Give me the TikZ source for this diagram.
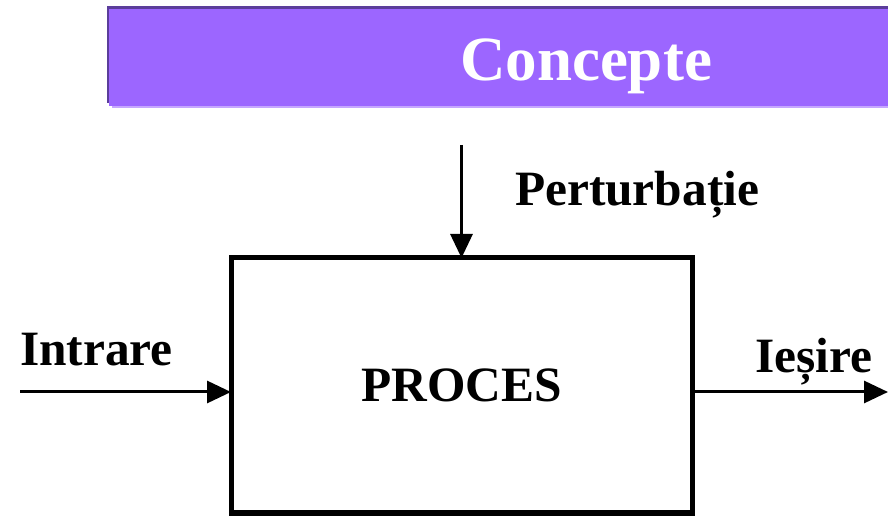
\documentclass[tikz,border=0pt]{standalone}
\usepackage{fontspec}
\setmainfont{Liberation Serif}
\usetikzlibrary{arrows.meta}
\definecolor{bannerfill}{HTML}{9C66FF}
\definecolor{bannerdark}{HTML}{5B3D9B}
\definecolor{bannerlight}{HTML}{C6A6FF}
\newcommand{\lbl}{\fontsize{24.7}{28}\selectfont\bfseries}
\begin{document}
\begin{tikzpicture}[x=0.5pt,y=-0.5pt,
  every node/.style={inner sep=0pt, outer sep=0pt},
  flow/.style={-{Triangle[length=12pt,width=11pt]}, line width=1.5pt},
  procbox/.style={draw, line width=2.5pt, minimum width=230.5pt, minimum height=127.5pt}]
\useasboundingbox (0,0) rectangle (888,517);
% banner
\fill[bannerlight] (112,9) rectangle (888,108);
\fill[bannerdark] (107,6) rectangle (888,103);
\fill[bannerfill] (109,9) rectangle (888,106);
\node[anchor=base] (title) at (586,81) {\fontsize{31.5}{36}\selectfont\bfseries\color{white}Concepte};

\node[procbox] (proces) at (461.5,385.5) {\lbl PROCES};
\coordinate (dist) at (461.5,145);
\coordinate (in) at (20,392);
\coordinate (out) at (888,392);

\node[anchor=base west] (perturbatie) at (515,206) {\lbl Perturbație};
\node[anchor=base west] (intrare) at (20,366) {\lbl Intrare};
\node[anchor=base west] (iesire) at (755,373) {\lbl Ieșire};

\path[flow] (dist) edge (proces.north);
\path[flow] (in) edge (in -| proces.west);
\path[flow] (proces.east |- out) edge (out);
\end{tikzpicture}
\end{document}
